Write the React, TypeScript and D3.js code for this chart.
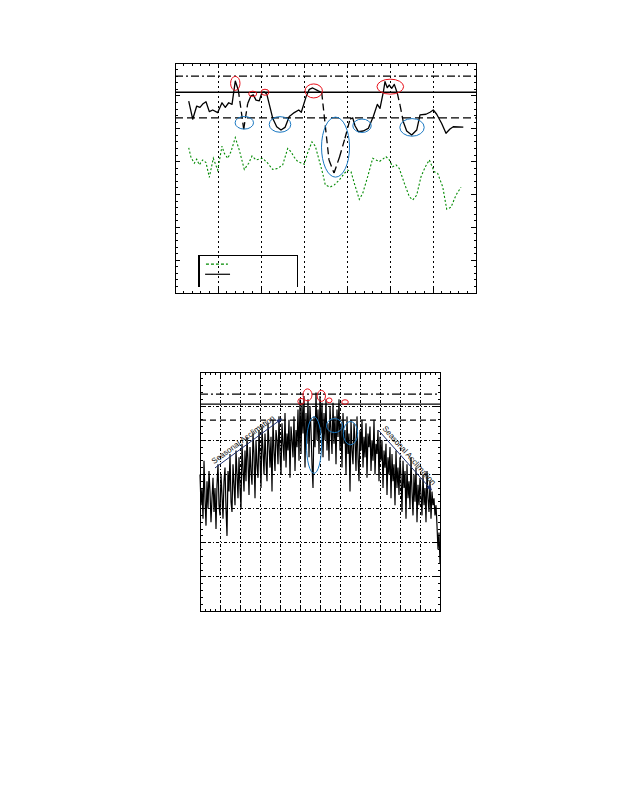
import React from 'react';
import * as d3 from 'd3';

// ---------- Top chart data ----------
const blackX = [3.19, 4.12, 5.05, 5.81, 6.44, 7.21, 7.98, 8.77, 9.93, 10.93, 11.7, 12.49, 13.26, 14.02, 14.72, 15.98, 16.91, 17.67, 18.21, 18.84, 19.6, 20.23, 20.77, 21.33, 22.72, 23.65, 24.65, 25.58, 26.58, 27.74, 28.77, 29.37, 30.47, 31.23, 32.02, 33.19, 34.12, 35.81, 36.98, 38.26, 39.53, 40.7, 41.33, 41.86, 42.63, 43.79, 44.95, 46.12, 47.05, 47.67, 48.44, 48.84, 49.37, 49.84, 50.4, 51.0, 51.7, 52.33, 53.09, 53.88, 55.05, 56.21, 56.98, 58.37, 59.3, 60.07, 60.86, 62.02, 63.02, 63.95, 64.72, 67.05];
const blackY = [58.4, 52.9, 56.9, 56.5, 57.5, 58.2, 55.2, 55.7, 54.9, 57.9, 56.5, 57.9, 57.4, 64.5, 61.8, 49.9, 57.7, 60.0, 60.3, 58.7, 58.5, 61.0, 61.2, 60.6, 53.2, 50.6, 49.6, 50.4, 53.7, 54.9, 55.7, 55.0, 59.7, 62.0, 62.4, 61.6, 61.0, 40.5, 36.5, 41.4, 47.1, 52.9, 53.3, 50.9, 49.1, 49.3, 50.1, 53.7, 57.4, 56.2, 61.1, 64.3, 62.5, 63.3, 62.3, 63.5, 60.8, 57.2, 52.1, 49.3, 48.1, 49.6, 54.2, 54.4, 55.0, 55.7, 54.4, 51.6, 48.6, 49.9, 50.6, 50.5];
const blackDashedSegments = [14, 15, 36, 37, 38, 39, 40, 56, 57];

const greenX = [3.19, 3.72, 4.49, 5.05, 5.65, 6.44, 7.21, 7.98, 8.91, 9.93, 10.93, 11.47, 12.26, 13.02, 14.02, 14.95, 16.12, 17.14, 17.91, 18.84, 20.4, 21.56, 22.72, 23.88, 25.05, 26.21, 26.98, 27.74, 28.53, 30.07, 30.86, 31.86, 32.63, 34.35, 34.95, 36.05, 37.05, 38.21, 39.37, 40.16, 40.93, 41.7, 42.86, 43.65, 44.81, 45.98, 46.74, 47.51, 48.3, 49.07, 49.84, 50.63, 51.4, 52.16, 53.33, 54.49, 55.28, 56.21, 57.21, 58.21, 59.14, 60.3, 61.09, 62.26, 63.19, 64.19, 65.35, 66.51];
const greenY = [44.2, 41.3, 39.5, 40.7, 39.0, 40.5, 39.7, 35.2, 41.0, 37.4, 44.7, 42.5, 41.0, 43.0, 47.3, 43.5, 37.6, 39.5, 41.7, 40.5, 41.0, 39.5, 37.6, 37.9, 39.0, 44.0, 43.0, 41.3, 40.0, 39.2, 42.7, 46.0, 44.7, 36.4, 32.9, 32.2, 32.9, 34.4, 36.4, 37.4, 36.9, 33.4, 28.5, 30.3, 35.4, 41.0, 40.5, 40.0, 40.7, 41.5, 40.5, 38.4, 39.0, 37.9, 33.4, 29.3, 28.3, 29.8, 35.4, 38.4, 40.5, 36.9, 36.4, 32.3, 25.5, 26.1, 29.8, 32.2];

const topRefValues = [66.0, 61.1, 53.3]; // dash-dot, solid, dashed

const topRedX = [14.02, 18.07, 20.93, 32.26, 50.07];
const topRedY = [63.8, 60.6, 61.1, 61.5, 62.8];
const topRedRx = [4.7, 4, 4, 8.7, 13.3];
const topRedRy = [7, 2.7, 3, 7, 7.5];
const topBlueX = [16.12, 24.42, 37.33, 43.49, 55.12];
const topBlueY = [51.8, 51.3, 44.4, 50.9, 50.4];
const topBlueRx = [9.2, 10.8, 14, 9.2, 12.2];
const topBlueRy = [6.3, 7.8, 30, 6.7, 8.8];

// ---------- Bottom chart data ----------
const bottomY = [
  40, 31, 36, 27, 44, 33, 25, 38,
  30, 41, 35, 26, 33, 39, 29, 36, 24, 37, 43, 31, 28, 40, 34, 27, 38, 42,
  30, 22, 41, 35, 46, 32, 29, 43, 37, 31, 47, 40, 33, 45, 36,
  30, 49, 42, 35, 47, 38, 51, 44, 34, 48, 41, 37, 52, 46, 33, 50, 43, 39, 53, 45,
  36, 54, 47, 40, 52, 44, 38, 55, 49, 42, 51, 35, 56, 47, 41, 53, 50, 43, 57, 46,
  40, 55, 49, 44, 58, 42, 52, 47, 56, 39, 54, 50, 45, 57, 41, 53, 48, 59, 44, 62,
  46, 61, 52, 63, 42,
  58, 49, 62, 45, 60, 53, 43, 36, 57, 48,
  64, 50, 59, 46, 63,
  52, 61, 45, 58, 50, 62, 47, 55, 44, 60, 53, 46, 61, 49, 57, 43, 59, 51, 62, 47,
  55, 42, 58, 49, 53, 40, 57, 46, 52, 35, 56, 47, 43, 55, 50, 41, 57, 45, 38, 53,
  47, 56, 42, 51, 45, 55, 39, 52, 48, 54, 41, 50, 44, 56, 40, 49, 46, 53, 38, 51,
  44, 50, 36, 47, 42, 49, 34, 45, 40, 48, 33, 46, 38, 43, 31, 47, 36, 42, 34, 45,
  39, 29, 44, 36, 41, 27, 43, 33, 38, 30, 45, 35, 28, 40, 32, 42, 26, 37, 31, 39,
  34, 28, 40, 31, 36, 26, 41, 33, 29, 38, 27, 35, 31, 33, 28,
  31, 25, 18, 23, 14,
];
const bottomRefValues = [63.5, 60.6, 55.9];

const botRedX = [107.5, 101, 121.3, 129.2, 145];
const botRedY = [63.3, 61.4, 63.0, 61.7, 61.2];
const botRedRx = [4.5, 3.2, 4.2, 2.8, 3.3];
const botRedRy = [6, 3, 5.5, 2.4, 2.3];
const botBlueX = [114, 134.5, 150.5];
const botBlueY = [48.6, 54.3, 52.1];
const botBlueRx = [7.5, 8, 7.2];
const botBlueRy = [28.3, 7, 11.7];

const arrowFrom = [[15, 41.9], [178.3, 53.0]];
const arrowTo = [[81.7, 56.3], [231.7, 35.4]];
const annotationText = ['Seasonal Acclimation', 'Seasonal Acclimation'];

const RED = '#e8101a';
const BLUE = '#1a78c2';
const GREEN = '#008a00';
const NAVY = '#1c2f6e';

function Ticks({ x, y, xMajor, xMinor, yMajor, yMinor }: any) {
  const [x0, x1] = x.range();
  const [y0, y1] = y.range();
  const els: any[] = [];
  const M = 5, m = 2.5;
  xMinor.forEach((v: number, i: number) => {
    const len = xMajor.includes(v) ? M : m;
    const px = x(v);
    els.push(<line key={'xb' + i} x1={px} x2={px} y1={y0} y2={y0 - len} />);
    els.push(<line key={'xt' + i} x1={px} x2={px} y1={y1} y2={y1 + len} />);
  });
  yMinor.forEach((v: number, i: number) => {
    const len = yMajor.includes(v) ? M : m;
    const py = y(v);
    els.push(<line key={'yl' + i} x1={x0} x2={x0 + len} y1={py} y2={py} />);
    els.push(<line key={'yr' + i} x1={x1} x2={x1 - len} y1={py} y2={py} />);
  });
  return <g stroke="#000" strokeWidth={1} shapeRendering="crispEdges">{els}</g>;
}

function TopChart() {
  const x = d3.scaleLinear().domain([0, 70]).range([175, 476]);
  const y = d3.scaleLinear().domain([0, 70]).range([293, 63]);
  const xMajor = d3.range(0, 71, 10);
  const xMinor = d3.range(0, 70.01, 2);
  const yMajor = d3.range(0, 71, 10);
  const yMinor = d3.range(0, 70.01, 2);
  const line = d3.line<number[]>().x(d => x(d[0])).y(d => y(d[1]));

  const runs: number[][][] = [];
  let cur: number[][] = [];
  const dashed: number[][][] = [];
  for (let i = 0; i < blackX.length - 1; i++) {
    const a = [blackX[i], blackY[i]], b = [blackX[i + 1], blackY[i + 1]];
    if (blackDashedSegments.includes(i)) {
      if (cur.length) { runs.push(cur); cur = []; }
      dashed.push([a, b]);
    } else {
      if (!cur.length) cur.push(a);
      cur.push(b);
    }
  }
  if (cur.length) runs.push(cur);
  const green = greenX.map((v, i) => [v, greenY[i]]);
  const refStyles = ['8,3,2,3', '', '8,4'];

  return (
    <g>
      {xMajor.slice(1, -1).map((v, i) => (
        <line key={'g' + i} x1={x(v)} x2={x(v)} y1={y(0)} y2={y(70)} stroke="#000" strokeWidth={1} strokeDasharray="2,3" shapeRendering="crispEdges" />
      ))}
      {topRefValues.map((v, i) => (
        <line key={'r' + i} x1={x(0)} x2={x(70)} y1={y(v)} y2={y(v)} stroke="#000" strokeWidth={1.3} strokeDasharray={refStyles[i] || undefined} />
      ))}
      <path d={line(green) || ''} fill="none" stroke={GREEN} strokeWidth={1.1} strokeDasharray="2,2" />
      {runs.map((r, i) => (
        <path key={'run' + i} d={line(r) || ''} fill="none" stroke="#000" strokeWidth={1.3} strokeLinejoin="round" />
      ))}
      {dashed.map((s, i) => (
        <path key={'ds' + i} d={line(s) || ''} fill="none" stroke="#000" strokeWidth={1.3} strokeDasharray="7,4" />
      ))}
      {topRedX.map((v, i) => (
        <ellipse key={'re' + i} cx={x(v)} cy={y(topRedY[i])} rx={topRedRx[i]} ry={topRedRy[i]} fill="none" stroke={RED} strokeWidth={1} />
      ))}
      {topBlueX.map((v, i) => (
        <ellipse key={'be' + i} cx={x(v)} cy={y(topBlueY[i])} rx={topBlueRx[i]} ry={topBlueRy[i]} fill="none" stroke={BLUE} strokeWidth={1} />
      ))}
      <path d={`M${x(5.6)},${y(1.9)} V${y(11.4)} H${x(28.4)} V${y(1.9)}`} fill="none" stroke="#000" strokeWidth={1.2} shapeRendering="crispEdges" />
      <line x1={x(7.2)} x2={x(12.3)} y1={y(8.8)} y2={y(8.8)} stroke={GREEN} strokeWidth={1.2} strokeDasharray="3,2" />
      <line x1={x(7)} x2={x(12.8)} y1={y(5.7)} y2={y(5.7)} stroke="#000" strokeWidth={1.2} />
      <rect x={175} y={63} width={301} height={230} fill="none" stroke="#000" strokeWidth={1} shapeRendering="crispEdges" />
      <Ticks x={x} y={y} xMajor={xMajor} xMinor={xMinor} yMajor={yMajor} yMinor={yMinor} />
    </g>
  );
}

function BottomChart() {
  const x = d3.scaleLinear().domain([0, 240]).range([200, 440]);
  const y = d3.scaleLinear().domain([0, 70]).range([611, 372]);
  const xMajor = d3.range(0, 241, 20);
  const xMinor = d3.range(0, 240.01, 5);
  const yMajor = d3.range(0, 71, 10);
  const yMinor = d3.range(0, 70.01, 2);
  const line = d3.line<number>().x((_, i) => x(i)).y(d => y(d));
  const refStyles = ['8,3,2,3', '', '6,4'];

  return (
    <g>
      {xMajor.slice(1, -1).map((v, i) => (
        <line key={'gx' + i} x1={x(v)} x2={x(v)} y1={y(0)} y2={y(70)} stroke="#000" strokeWidth={1} strokeDasharray="3,2,1,2" shapeRendering="crispEdges" />
      ))}
      {yMajor.slice(1, -1).map((v, i) => (
        <line key={'gy' + i} x1={x(0)} x2={x(240)} y1={y(v)} y2={y(v)} stroke="#000" strokeWidth={1} strokeDasharray="3,2,1,2" shapeRendering="crispEdges" />
      ))}
      {bottomRefValues.map((v, i) => (
        <line key={'r' + i} x1={x(0)} x2={x(240)} y1={y(v)} y2={y(v)} stroke="#000" strokeWidth={1.2} strokeDasharray={refStyles[i] || undefined} />
      ))}
      <path d={line(bottomY) || ''} fill="none" stroke="#000" strokeWidth={1.2} />
      {botRedX.map((v, i) => (
        <ellipse key={'re' + i} cx={x(v)} cy={y(botRedY[i])} rx={botRedRx[i]} ry={botRedRy[i]} fill="none" stroke={RED} strokeWidth={1} />
      ))}
      {botBlueX.map((v, i) => (
        <ellipse key={'be' + i} cx={x(v)} cy={y(botBlueY[i])} rx={botBlueRx[i]} ry={botBlueRy[i]} fill="none" stroke={BLUE} strokeWidth={1} />
      ))}
      {arrowFrom.map((f, i) => {
        const x1 = x(f[0]), y1 = y(f[1]);
        const x2 = x(arrowTo[i][0]), y2 = y(arrowTo[i][1]);
        const ang = Math.atan2(y2 - y1, x2 - x1);
        const deg = (ang * 180) / Math.PI;
        const L = 5, W = 2;
        const hx = x2 - L * Math.cos(ang), hy = y2 - L * Math.sin(ang);
        const nx = -Math.sin(ang), ny = Math.cos(ang);
        const off = 3.5;
        const tx = x1 + 1.5 * Math.cos(ang) - off * nx;
        const ty = y1 + 1.5 * Math.sin(ang) - off * ny;
        return (
          <g key={'a' + i}>
            <line x1={x1} y1={y1} x2={hx} y2={hy} stroke={NAVY} strokeWidth={1} />
            <path d={`M${x2},${y2} L${hx + W * nx},${hy + W * ny} L${hx - W * nx},${hy - W * ny} Z`} fill={NAVY} stroke={NAVY} strokeWidth={0.5} />
            <text x={tx} y={ty} transform={`rotate(${deg},${tx},${ty})`} fontFamily="Liberation Sans, Arial, sans-serif" fontSize={8} fill="#111">
              {annotationText[i]}
            </text>
          </g>
        );
      })}
      <rect x={200} y={372} width={240} height={239} fill="none" stroke="#000" strokeWidth={1} shapeRendering="crispEdges" />
      <Ticks x={x} y={y} xMajor={xMajor} xMinor={xMinor} yMajor={yMajor} yMinor={yMinor} />
    </g>
  );
}

export default function App() {
  return (
    <svg width={618} height={800} viewBox="0 0 618 800" style={{ position: 'absolute', left: 0, top: 0, background: '#fff' }}>
      <rect x={0} y={0} width={618} height={800} fill="#fff" />
      <TopChart />
      <BottomChart />
    </svg>
  );
}
